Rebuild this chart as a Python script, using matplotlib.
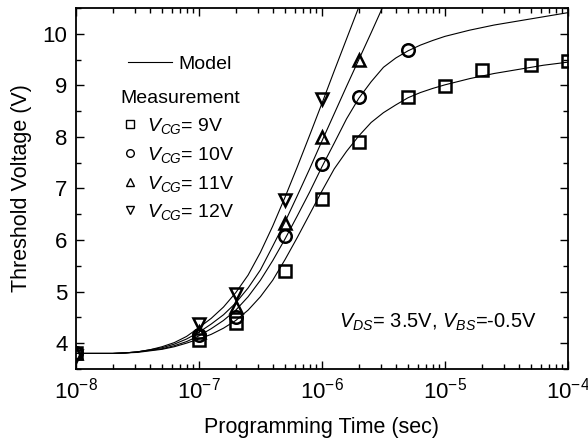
import matplotlib
matplotlib.use('Agg')
import matplotlib.pyplot as plt
from matplotlib.lines import Line2D

plt.rcParams['font.family'] = ['Liberation Sans', 'DejaVu Sans']
plt.rcParams['mathtext.fontset'] = 'custom'
plt.rcParams['mathtext.rm'] = 'Liberation Sans'
plt.rcParams['mathtext.it'] = 'Liberation Sans:italic'
plt.rcParams['mathtext.default'] = 'regular'

# measured data (programming time in s, threshold voltage in V)
t_9 = [1e-8, 1e-7, 2e-7, 5e-7, 1e-6, 2e-6, 5e-6, 1e-5, 2e-5, 5e-5, 1e-4]
vt_9 = [3.80, 4.07, 4.39, 5.40, 6.80, 7.90, 8.78, 8.99, 9.29, 9.39, 9.48]
t_10 = [1e-8, 1e-7, 2e-7, 5e-7, 1e-6, 2e-6, 5e-6]
vt_10 = [3.80, 4.15, 4.51, 6.08, 7.48, 8.78, 9.68]
t_11 = [1e-8, 1e-7, 2e-7, 5e-7, 1e-6, 2e-6]
vt_11 = [3.80, 4.22, 4.70, 6.33, 8.00, 9.49]
t_12 = [1e-8, 1e-7, 2e-7, 5e-7, 1e-6]
vt_12 = [3.76, 4.38, 4.96, 6.77, 8.74]

# model curves, every 0.1 decade from 10^-7.7 to 10^-4
t_model = [1e-8] + [10 ** (-7.7 + 0.1 * i) for i in range(38)]
model_9 = [3.80, 3.80, 3.81, 3.82, 3.85, 3.88, 3.93, 4.00, 4.08, 4.17, 4.29,
           4.44, 4.64, 4.90, 5.22, 5.62, 6.05, 6.50, 6.95, 7.38, 7.72,
           8.02, 8.28, 8.47, 8.62, 8.76, 8.86, 8.94, 9.01, 9.07, 9.13,
           9.18, 9.23, 9.27, 9.31, 9.35, 9.39, 9.42, 9.45]
model_10 = [3.80, 3.80, 3.81, 3.83, 3.86, 3.89, 3.95, 4.03, 4.14, 4.28, 4.44,
            4.64, 4.90, 5.22, 5.60, 6.02, 6.47, 6.93, 7.42, 7.88, 8.35,
            8.75, 9.07, 9.35, 9.53, 9.67, 9.78, 9.87, 9.95, 10.01, 10.07,
            10.12, 10.17, 10.21, 10.25, 10.29, 10.33, 10.37, 10.41]
model_11 = [3.80, 3.80, 3.81, 3.83, 3.87, 3.91, 3.98, 4.08, 4.21, 4.37, 4.55,
            4.78, 5.07, 5.42, 5.88, 6.35, 6.86, 7.38, 7.92, 8.45, 8.98,
            9.50, 10.02, 10.55, 11.05, 11.50, 11.90, 12.25, 12.55, 12.80, 13.0,
            13.2, 13.35, 13.5, 13.6, 13.7, 13.8, 13.9, 14.0]
model_12 = [3.80, 3.80, 3.81, 3.83, 3.87, 3.93, 4.01, 4.13, 4.30, 4.48, 4.70,
            4.98, 5.32, 5.76, 6.27, 6.83, 7.42, 8.03, 8.65, 9.28, 9.90,
            10.52, 11.10, 11.65, 12.1, 12.5, 12.85, 13.15, 13.4, 13.6, 13.8,
            13.95, 14.1, 14.2, 14.3, 14.4, 14.5, 14.6, 14.7]

fig = plt.figure(figsize=(5.88, 4.45), dpi=100)
ax = fig.add_axes([0.129, 0.171, 0.837, 0.811])

for m in [model_9, model_10, model_11, model_12]:
    ax.plot(t_model, m, color='black', lw=0.8)

mk = dict(color='black', ls='none', mfc='none', ms=9, mew=1.8)
ax.plot(t_9, vt_9, marker='s', **mk)
ax.plot(t_10, vt_10, marker='o', **mk)
ax.plot(t_11, vt_11, marker='^', **mk)
ax.plot(t_12, vt_12, marker='v', **mk)

ax.set_xscale('log')
ax.set_xlim(1e-8, 1e-4)
ax.set_ylim(3.5, 10.5)
ax.set_yticks([4, 5, 6, 7, 8, 9, 10])
ax.set_yticks([3.5, 4.5, 5.5, 6.5, 7.5, 8.5, 9.5, 10.5], minor=True)
ax.tick_params(which='both', direction='in', top=True, right=True, width=1)
ax.tick_params(which='major', length=6, labelsize=16, pad=6)
ax.tick_params(which='minor', length=3.5)
for s in ax.spines.values():
    s.set_linewidth(1.3)

ax.set_xlabel('Programming Time (sec)', fontsize=15.5, labelpad=10)
ax.set_ylabel('Threshold Voltage (V)', fontsize=15.5, labelpad=8)

ax.text(0.535, 0.13, r'$\mathit{V}_{\mathit{DS}}$= 3.5V, $\mathit{V}_{\mathit{BS}}$=-0.5V',
        transform=ax.transAxes, fontsize=14.5, va='center')

leg1 = ax.legend([Line2D([], [], color='black', lw=0.8)], ['Model'],
                 loc='upper left', bbox_to_anchor=(0.105, 0.87), frameon=False,
                 fontsize=14, handlelength=2.3, handletextpad=0.3,
                 borderpad=0, borderaxespad=0)
ax.add_artist(leg1)

lab = [r'$\mathit{V}_{\mathit{CG}}$= 9V', r'$\mathit{V}_{\mathit{CG}}$= 10V',
       r'$\mathit{V}_{\mathit{CG}}$= 11V', r'$\mathit{V}_{\mathit{CG}}$= 12V']
hs = [Line2D([], [], color='black', ls='none', marker=mm, mfc='none', ms=5.5, mew=1)
      for mm in ['s', 'o', '^', 'v']]
leg2 = ax.legend(hs, lab, title='Measurement', title_fontsize=14, fontsize=14,
                 loc='upper left', bbox_to_anchor=(0.09, 0.772), frameon=False,
                 handlelength=1.0, handletextpad=0.4, labelspacing=0.45,
                 borderpad=0, borderaxespad=0, alignment='left')

fig.savefig('out.png', dpi=100)
